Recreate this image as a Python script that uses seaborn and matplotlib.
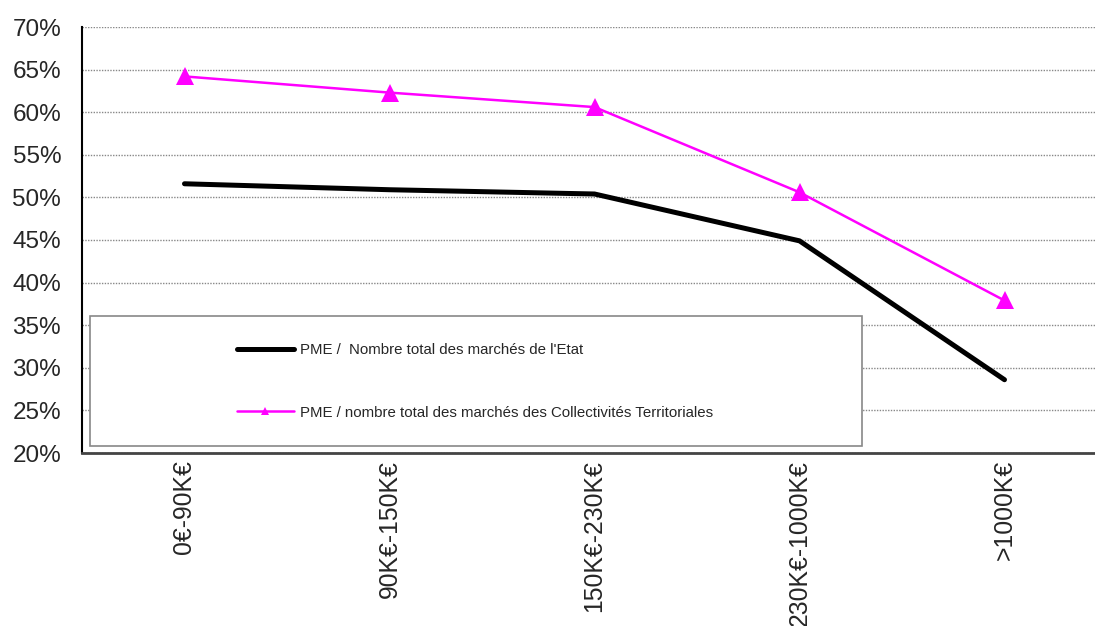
import matplotlib; matplotlib.use("Agg")
import matplotlib.pyplot as plt
import matplotlib.patches as mpatches
from matplotlib.ticker import FixedLocator, PercentFormatter
import numpy as np
import pandas as pd
import seaborn as sns

# ── Données ───────────────────────────────────────────────────────────────────
tranches = ["0€-90K€", "90K€-150K€", "150K€-230K€", "230K€-1000K€", ">1000K€"]
etat     = [51.6, 50.9, 50.4, 44.9, 28.6]
collect  = [64.2, 62.3, 60.6, 50.6, 37.9]
lbl_etat    = "PME /  Nombre total des marchés de l'Etat"
lbl_collect = "PME / nombre total des marchés des Collectivités Territoriales"

sns.set_style("white")
plt.rcParams["font.family"] = ["Liberation Sans", "DejaVu Sans"]

df = pd.DataFrame({"pos": np.arange(len(tranches)), "tranche": tranches,
                   "etat": etat, "collect": collect})

fig = plt.figure(figsize=(10.95, 6.26), dpi=100)
ax = fig.add_axes([82/1095, 1 - 453/626, 1025/1095, 426/626])

sns.lineplot(data=df, x="pos", y="etat", color="black", lw=3.6,
             ax=ax, label=lbl_etat, solid_capstyle="round")
sns.lineplot(data=df, x="pos", y="collect", color="#FF00FF", lw=1.8,
             marker="^", markersize=13, markeredgewidth=0, ax=ax, label=lbl_collect)

ax.set_xlim(-0.5, len(tranches) - 0.5)
ax.set_ylim(20, 70)
ax.set_yticks(np.arange(20, 71, 5))
ax.yaxis.set_major_formatter(PercentFormatter(decimals=0))
ax.set_xticks(df["pos"])
ax.set_xticklabels(tranches, rotation=90)
ax.xaxis.set_minor_locator(FixedLocator(np.arange(-0.5, len(tranches), 1)))
ax.tick_params(axis="x", which="major", length=0, pad=5, labelsize=17.8)
ax.tick_params(axis="x", which="minor", length=8, color="#555555")
ax.tick_params(axis="y", length=7, color="#888888", labelsize=17.5, pad=8)
ax.set_xlabel(""); ax.set_ylabel("")

ax.grid(axis="y", color="#888888", ls=(0, (1, 1)), lw=1)
for s in ["top", "right"]:
    ax.spines[s].set_visible(False)
ax.spines["left"].set_color("black")
ax.spines["left"].set_linewidth(1.5)
ax.spines["bottom"].set_color("#444444")
ax.spines["bottom"].set_linewidth(2)

# cadre de légende (plus grand que son contenu, comme l'original)
ax.add_patch(mpatches.Rectangle((8/1025, 7/426), (862-90)/1025, (446-316)/426,
                                transform=ax.transAxes, fc="white",
                                ec="#888888", lw=1.2, zorder=3))
leg = ax.legend(loc="upper left", bbox_to_anchor=(0.138, 0.29), frameon=False,
                fontsize=10.8, labelspacing=3.25, handlelength=3.8,
                handletextpad=0.4, markerscale=0.45)
leg.set_zorder(4)

fig.savefig("out.png", dpi=100)
plt.close(fig)
